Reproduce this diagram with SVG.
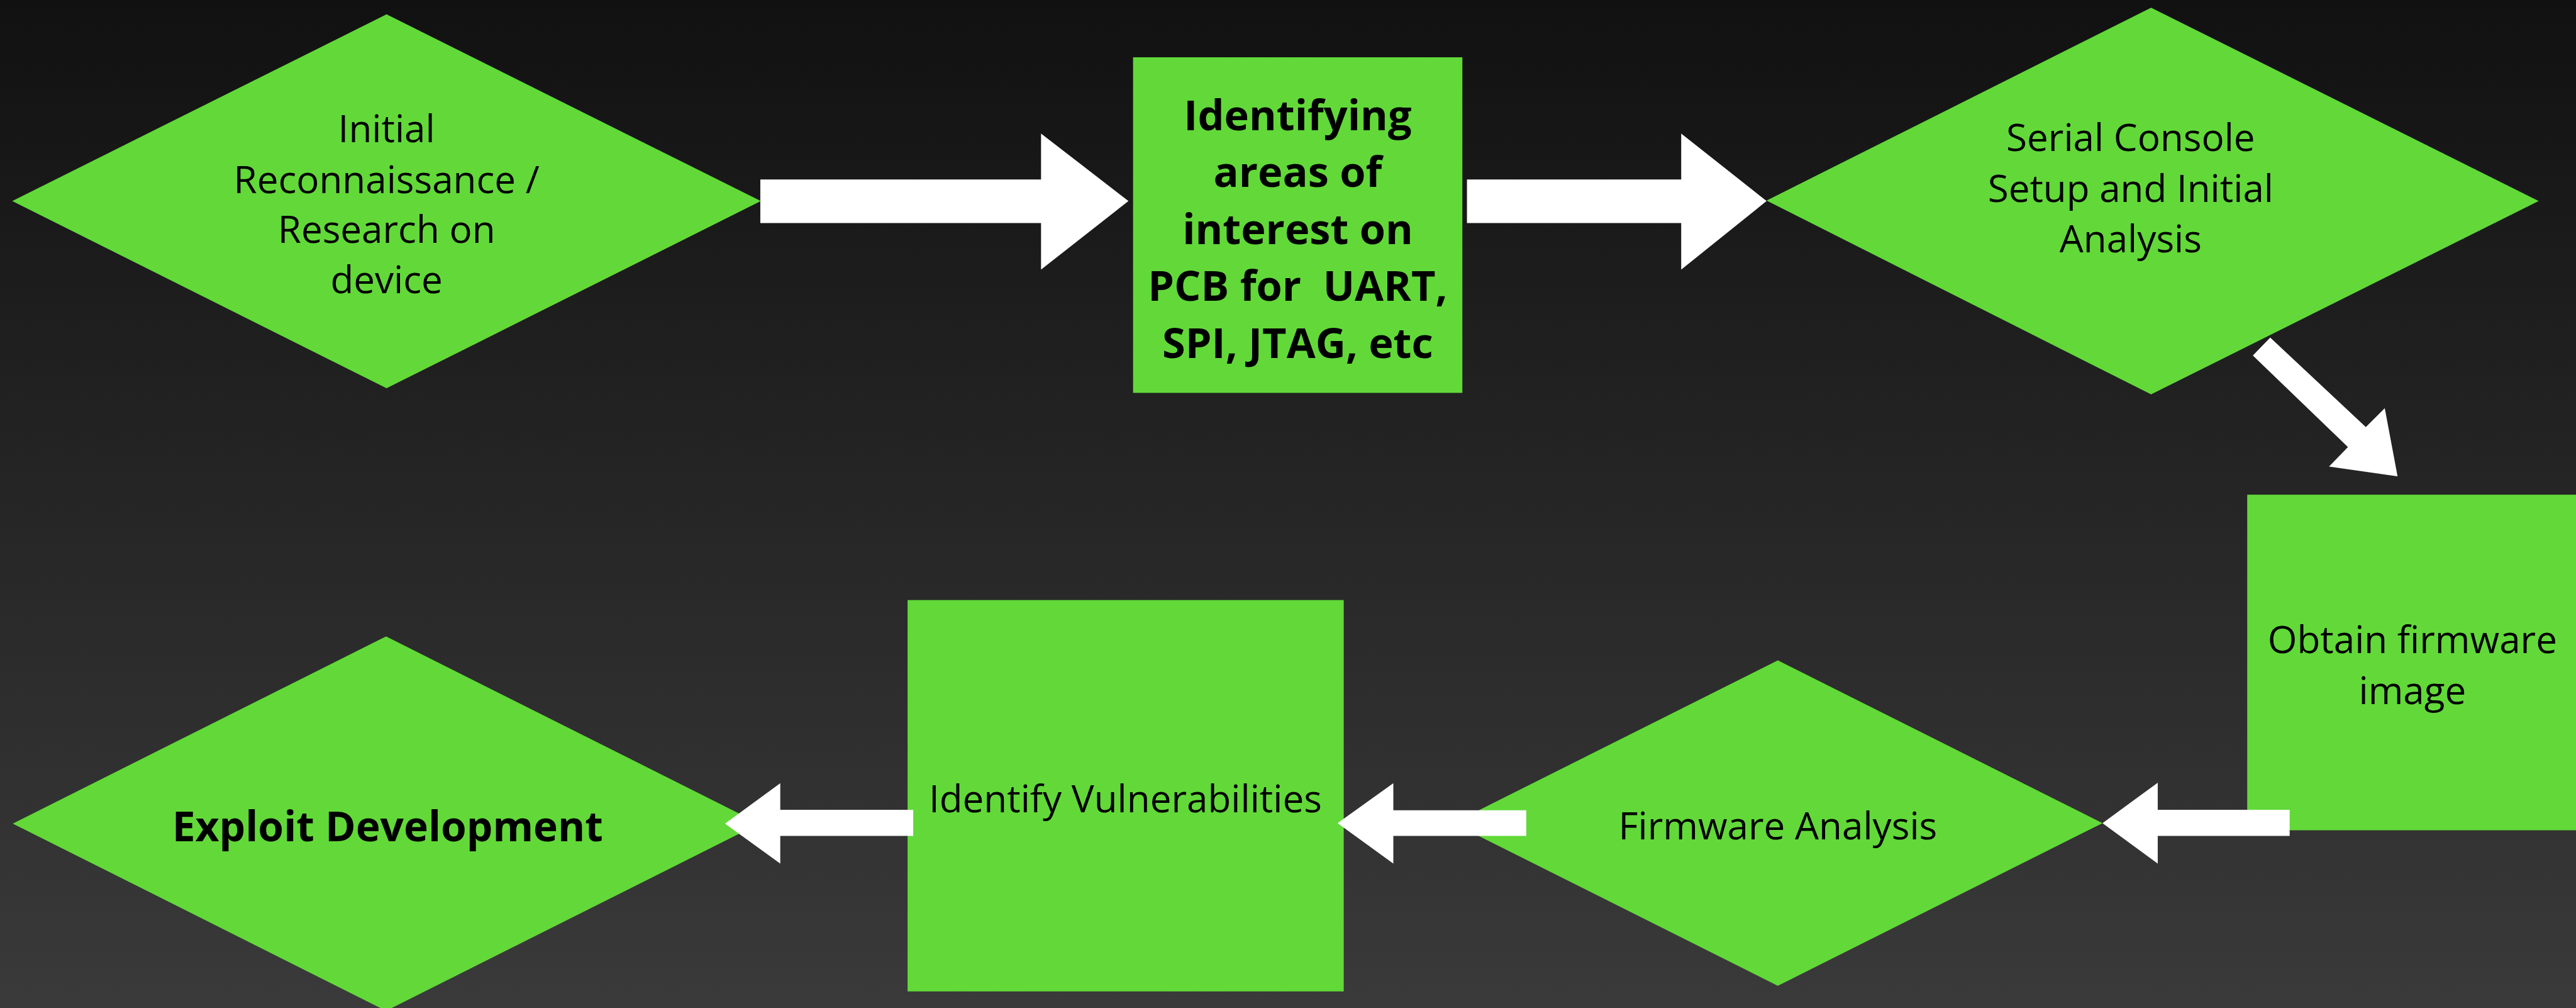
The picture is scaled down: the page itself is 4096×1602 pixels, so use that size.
<svg xmlns="http://www.w3.org/2000/svg" width="4096" height="1602" viewBox="0 0 4096 1602">
<defs>
<linearGradient id="bg" x1="0" y1="0" x2="0" y2="1">
<stop offset="0" stop-color="#111111"/>
<stop offset="1" stop-color="#3a3a3a"/>
</linearGradient>
<style>
.n{fill:#62d939}
.c{fill:#ffffff}
.t{font-family:"Open Sans","Liberation Sans",sans-serif;font-size:74px;fill:#000000;text-anchor:middle}
.b{font-family:"Open Sans","Liberation Sans",sans-serif;font-weight:bold;fill:#000000;text-anchor:middle}
</style>
</defs>
<rect x="0" y="0" width="4096" height="1602" fill="url(#bg)"/>
<g transform="scale(0.81302)">
<g id="node-recon">
<polygon class="n" points="756,28 1488,393 756,759 24,393"/>
<text class="t" x="756" y="278">Initial</text>
<text class="t" x="756" y="377">Reconnaissance /</text>
<text class="t" x="756" y="475">Research on</text>
<text class="t" x="756" y="573">device</text>
</g>
<g id="node-identify-areas">
<rect class="n" x="2216" y="112" width="644" height="656"/>
<text class="b" font-size="82" x="2538" y="254">Identifying</text>
<text class="b" font-size="82" x="2538" y="365">areas of</text>
<text class="b" font-size="82" x="2538" y="477">interest on</text>
<text class="b" font-size="82" x="2538" y="588" xml:space="preserve">PCB for  UART,</text>
<text class="b" font-size="82" x="2538" y="700">SPI, JTAG, etc</text>
</g>
<g id="node-serial">
<polygon class="n" points="4207,15 4965,393 4207,771 3455,392"/>
<text class="t" x="4167" y="295">Serial Console</text>
<text class="t" x="4167" y="395">Setup and Initial</text>
<text class="t" x="4167" y="493">Analysis</text>
</g>
<g id="node-obtain">
<rect class="n" x="4395" y="967" width="643" height="656"/>
<text class="t" x="4718" y="1277">Obtain firmware</text>
<text class="t" x="4718" y="1376">image</text>
</g>
<g id="node-fw-analysis">
<polygon class="n" points="3477,1291 4112,1609 3477,1927 2842,1609"/>
<text class="t" x="3477" y="1641">Firmware Analysis</text>
</g>
<g id="node-vulns">
<rect class="n" x="1775" y="1173" width="853" height="765"/>
<text class="t" x="2201" y="1588">Identify Vulnerabilities</text>
</g>
<g id="node-exploit">
<polygon class="n" points="755,1244 1485,1610 755,1976 25,1610"/>
<text class="b" font-size="81" x="758" y="1645">Exploit Development</text>
</g>
<g id="connectors">
<polygon class="c" points="1487,351 2036,351 2036,261 2207,393 2036,527 2036,436 1487,436"/>
<polygon class="c" points="2869,351 3288,351 3288,261 3455,393 3288,527 3288,436 2869,436"/>
<polygon class="c" points="4440,660 4627,835 4664,798 4689,931 4555,912 4592,874 4406,695"/>
<polygon class="c" points="4478,1583 4220,1583 4220,1530 4112,1609 4220,1688 4220,1634 4478,1634"/>
<polygon class="c" points="2985,1584 2725,1584 2725,1531 2616,1609 2725,1688 2725,1634 2985,1634"/>
<polygon class="c" points="1786,1583 1526,1583 1526,1531 1418,1610 1526,1688 1526,1634 1786,1634"/>
</g>
</g>
</svg>
